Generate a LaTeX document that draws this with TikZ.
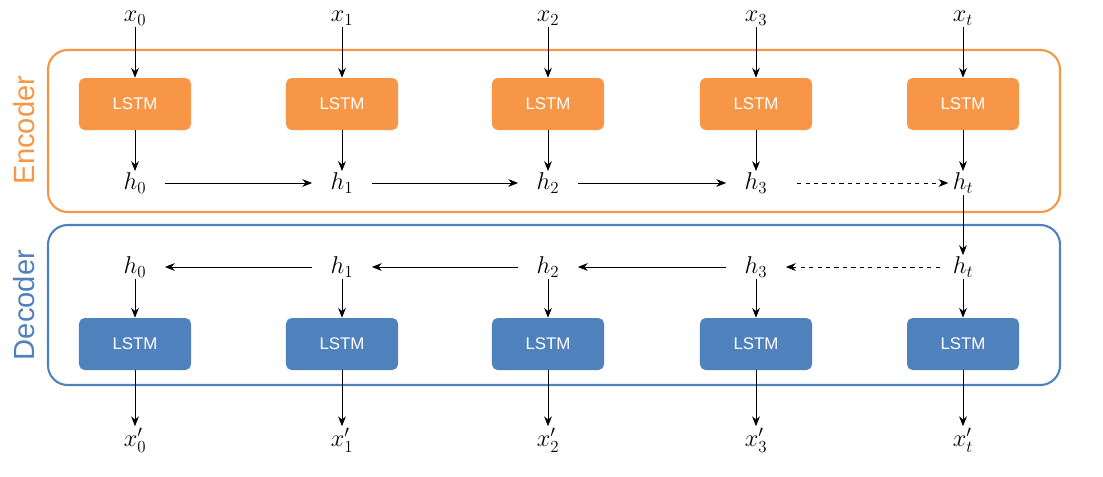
\documentclass[tikz,border=0pt]{standalone}
\usepackage{fontspec}
\newfontfamily\sansf{Liberation Sans}
\usetikzlibrary{arrows.meta}
\definecolor{org}{HTML}{F79646}
\definecolor{blu}{HTML}{4F81BD}
\begin{document}
\begin{tikzpicture}[x=0.025cm,y=-0.025cm,
  lstm/.style={rounded corners=4pt,minimum width=2.8cm,minimum height=1.3cm,text=white,font=\sansf\large},
  enc/.style={lstm,fill=org},
  dec/.style={lstm,fill=blu},
  v/.style={font=\LARGE,inner sep=1pt},
  ar/.style={-{Stealth[length=7pt,width=5.5pt]},semithick},
  hr/.style={ar,shorten <=12pt,shorten >=12pt},
  dar/.style={ar,dashed}]
\useasboundingbox (0,0) rectangle (1103,476);
\draw[org,line width=1.5pt,rounded corners=14pt] (48,50) rectangle (1060,212);
\draw[blu,line width=1.5pt,rounded corners=14pt] (48,225) rectangle (1060,385);
\node[rotate=90,org,font=\sansf\huge] (el) at (24,130) {Encoder};
\node[rotate=90,blu,font=\sansf\huge] (dl) at (24,305) {Decoder};
\foreach \i/\x/\s in {0/135/0,1/342/1,2/548/2,3/756/3,t/963/t}{
  \node[v] (x\i) at (\x,18) {$x_{\s}$};
  \node[enc] (e\i) at (\x,104) {LSTM};
  \node[v] (h\i) at (\x,183) {$h_{\s}$};
  \node[v] (g\i) at (\x,267) {$h_{\s}$};
  \node[dec] (d\i) at (\x,344) {LSTM};
  \node[v] (y\i) at (\x,440) {$x'_{\s}$};
  \draw[ar] (x\i) -- (e\i);
  \draw[ar] (e\i) -- (h\i);
  \draw[ar] (g\i) -- (d\i);
  \draw[ar] (d\i) -- (y\i);
}
\draw[hr] (h0) -- (h1);
\draw[hr] (h1) -- (h2);
\draw[hr] (h2) -- (h3);
\draw[dar,shorten >=2pt] ([xshift=20pt]h3.east) -- (ht);
\draw[ar] (ht) -- (gt);
\draw[dar,shorten >=12pt] ([xshift=-8pt]gt.west) -- (g3);
\draw[hr] (g3) -- (g2);
\draw[hr] (g2) -- (g1);
\draw[hr] (g1) -- (g0);
\end{tikzpicture}
\end{document}
